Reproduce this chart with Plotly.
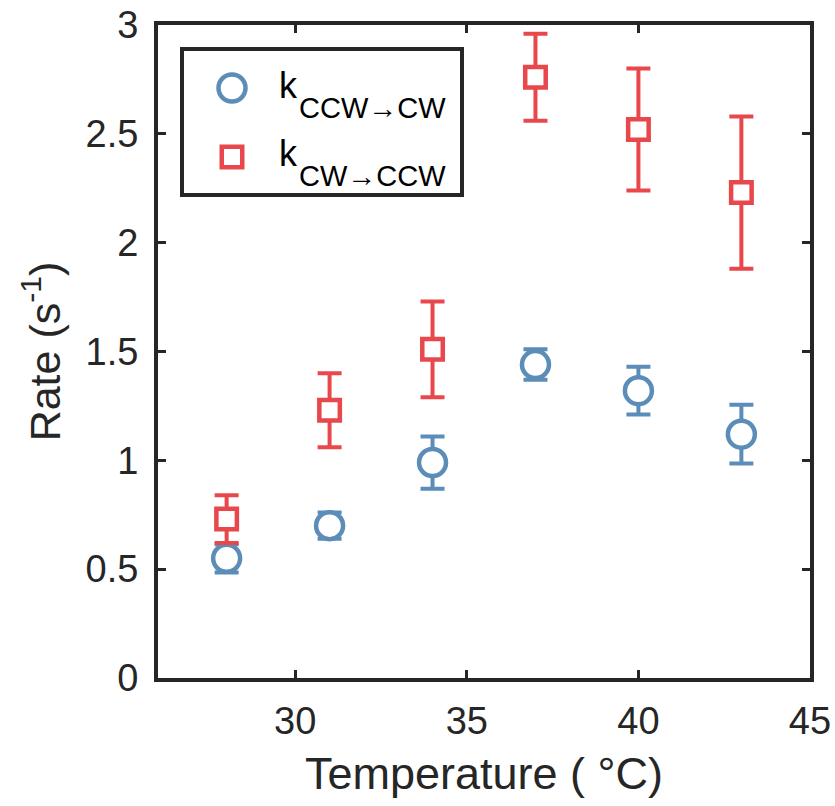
import plotly.graph_objects as go

temps = [28, 31, 34, 37, 40, 43]
k_ccw_cw = [0.55, 0.70, 0.99, 1.44, 1.32, 1.12]
k_ccw_cw_err = [0.065, 0.06, 0.12, 0.07, 0.11, 0.135]
k_cw_ccw = [0.73, 1.23, 1.51, 2.76, 2.52, 2.23]
k_cw_ccw_err = [0.11, 0.17, 0.22, 0.20, 0.28, 0.35]
legend_subs = ["CCW→CW", "CW→CCW"]

blue = "#5B8DB8"
red = "#E8474C"
dark = "#262626"
font_family = "Liberation Sans, Arial, Helvetica, sans-serif"

fig = go.Figure()
fig.add_trace(go.Scatter(
    x=temps, y=k_ccw_cw, mode="markers", name="k CCW→CW", showlegend=False,
    marker=dict(symbol="circle", size=27, color="white", line=dict(color=blue, width=4.5)),
    error_y=dict(type="data", array=k_ccw_cw_err, color=blue, thickness=4, width=12),
))
fig.add_trace(go.Scatter(
    x=temps, y=k_cw_ccw, mode="markers", name="k CW→CCW", showlegend=False,
    marker=dict(symbol="square", size=20.5, color="white", line=dict(color=red, width=4.5)),
    error_y=dict(type="data", array=k_cw_ccw_err, color=red, thickness=4, width=12),
))

axis_common = dict(
    showline=True, linecolor=dark, linewidth=4, mirror="ticks",
    ticks="inside", ticklen=8, tickwidth=3, tickcolor=dark,
    showgrid=False, zeroline=False, automargin=False,
    tickfont=dict(family=font_family, size=38, color=dark),
)

# plot area in pixels: x 158..810, y 25..678
PW, PH = 652.0, 653.0
def px(x):
    return (x - 158) / PW
def py(y):
    return 1 - (y - 25) / PH

shapes = [
    dict(type="rect", xref="paper", yref="paper", x0=px(182), x1=px(462), y0=py(195), y1=py(49),
         line=dict(color=dark, width=4), fillcolor="white", layer="above"),
    dict(type="circle", xref="paper", yref="paper", xsizemode="pixel", ysizemode="pixel",
         xanchor=px(232), yanchor=py(88), x0=-13.5, x1=13.5, y0=-13.5, y1=13.5,
         line=dict(color=blue, width=4.5), fillcolor="white", layer="above"),
    dict(type="rect", xref="paper", yref="paper", xsizemode="pixel", ysizemode="pixel",
         xanchor=px(232), yanchor=py(157), x0=-10.25, x1=10.25, y0=-10.25, y1=10.25,
         line=dict(color=red, width=4.5), fillcolor="white", layer="above"),
]

annotations = []
for sub, yk, ys in zip(legend_subs, [85, 153], [108, 176]):
    annotations.append(dict(
        xref="paper", yref="paper", x=px(277), y=py(yk), xanchor="left", yanchor="middle",
        showarrow=False, text="k",
        font=dict(family=font_family, size=36, color="black"),
    ))
    annotations.append(dict(
        xref="paper", yref="paper", x=px(297), y=py(ys), xanchor="left", yanchor="middle",
        showarrow=False, text=sub,
        font=dict(family=font_family, size=29, color="black"),
    ))

fig.update_layout(
    width=835, height=806,
    margin=dict(l=158, r=25, t=25, b=128),
    paper_bgcolor="white", plot_bgcolor="white",
    font=dict(family=font_family, color=dark),
    xaxis=dict(range=[26, 45], tickvals=[30, 35, 40, 45], ticklabelstandoff=6,
               title=dict(text="Temperature ( °C)", font=dict(size=45, family=font_family, color=dark), standoff=18),
               **axis_common),
    yaxis=dict(range=[0, 3], tickvals=[0, 0.5, 1, 1.5, 2, 2.5, 3],
               ticktext=["0", "0.5", "1", "1.5", "2", "2.5", "3"], ticklabelstandoff=8,
               title=dict(text="Rate (s<sup>-1</sup>)", font=dict(size=43, family=font_family, color=dark), standoff=13),
               **axis_common),
    shapes=shapes,
    annotations=annotations,
    showlegend=False,
)

fig.write_html("out.html")
